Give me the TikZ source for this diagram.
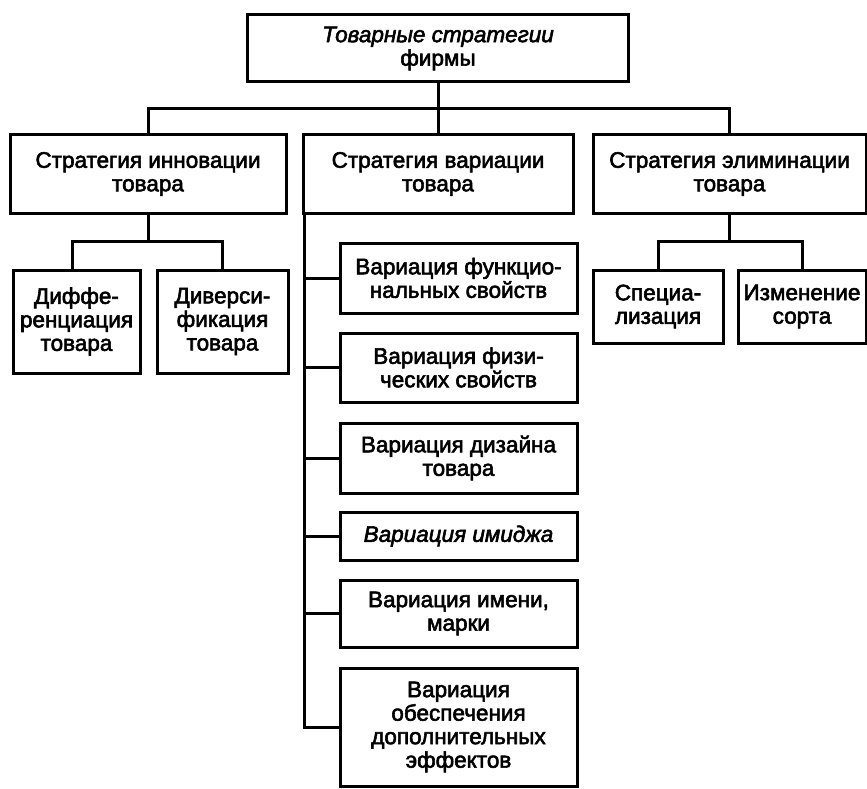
\documentclass[tikz,border=0pt]{standalone}
\usepackage{fontspec}
\setmainfont{Liberation Sans}[RawFeature={embolden=2.5}]
\begin{document}
\begin{tikzpicture}[x=1pt,y=-1pt,
  box/.style={draw, line width=3pt, rectangle, inner sep=0pt, outer sep=0pt,
    align=center, font=\fontsize{22.5}{23.5}\selectfont},
  link/.style={line width=3pt},
]
\useasboundingbox (0,0) rectangle (867,789);

% root
\node[box, minimum width=381, minimum height=67] (root) at (438,48.5)
  {\textit{Товарные стратегии}\\фирмы};

% second level
\node[box, minimum width=276, minimum height=78] (inno) at (148,174)
  {Стратегия инновации\\товара};
\node[box, minimum width=270, minimum height=78] (vari) at (438,174)
  {Стратегия вариации\\товара};
\node[box, minimum width=273, minimum height=78] (elim) at (729.5,174)
  {Стратегия элиминации\\товара};

% innovation branch
\node[box, minimum width=127, minimum height=103] (diff) at (76.5,321.5)
  {Диффе-\\ренциация\\товара};
\node[box, minimum width=131, minimum height=103] (dive) at (222.5,321.5)
  {Диверси-\\фикация\\товара};

% elimination branch
\node[box, minimum width=130, minimum height=73] (spec) at (658,306.5)
  {Специа-\\лизация};
\node[box, minimum width=128, minimum height=73] (sort) at (802,306.5)
  {Изменение\\сорта};

% variation branch
\node[box, minimum width=237, minimum height=70] (v1) at (458.5,278)
  {Вариация функцио-\\нальных свойств};
\node[box, minimum width=237, minimum height=69] (v2) at (458.5,367.5)
  {Вариация физи-\\ческих свойств};
\node[box, minimum width=237, minimum height=70] (v3) at (458.5,458)
  {Вариация дизайна\\товара};
\node[box, minimum width=237, minimum height=48] (v4) at (458.5,536)
  {\textit{Вариация имиджа}};
\node[box, minimum width=237, minimum height=67] (v5) at (458.5,613.5)
  {Вариация имени,\\марки};
\node[box, minimum width=237, minimum height=118] (v6) at (458.5,727)
  {Вариация\\обеспечения\\дополнительных\\эффектов};

% connectors: root to second level
\coordinate (busA) at (0,109);
\draw[link] (root.south) -- (vari.north);
\draw[link] (inno.north) |- (busA -| elim.north) -- (elim.north);

% connectors: innovation branch
\coordinate (busB) at (0,241);
\draw[link] (inno.south) -- (busB -| inno.south);
\draw[link] ([xshift=-4pt]diff.north) |- (busB -| dive.north) -- (dive.north);

% connectors: elimination branch
\draw[link] (elim.south) -- (busB -| elim.south);
\draw[link] (spec.north) |- (busB -| sort.north) -- (sort.north);

% connectors: variation spine
\coordinate (spine) at ([xshift=1.5pt]vari.south west);
\draw[link] (spine) |- (v6.west);
\foreach \n in {v1,v2,v3,v4,v5}
  \draw[link] (\n.west) -- (\n.west -| spine);
\end{tikzpicture}
\end{document}
